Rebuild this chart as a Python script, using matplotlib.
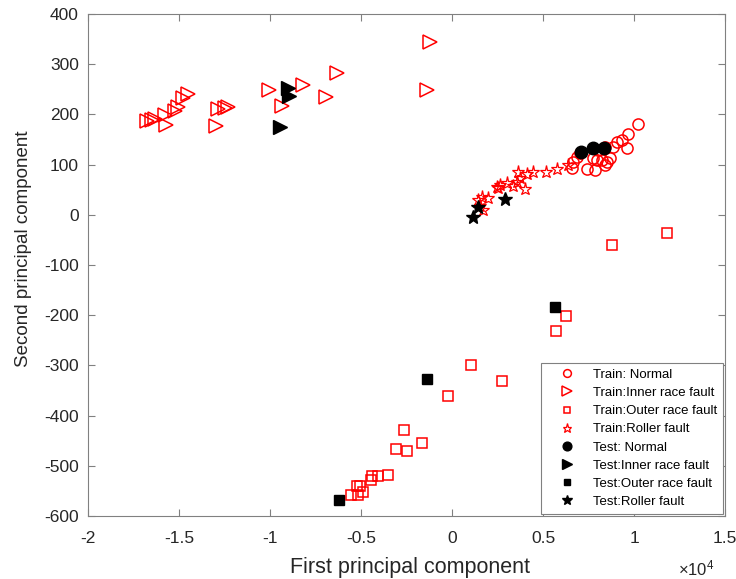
import matplotlib
matplotlib.use("Agg")
import matplotlib.pyplot as plt
from matplotlib.ticker import FuncFormatter, MultipleLocator

plt.rcParams["font.family"] = ["Liberation Sans", "DejaVu Sans"]
plt.rcParams["mathtext.fontset"] = "custom"
plt.rcParams["mathtext.rm"] = "Liberation Sans"

# ── Data (first PC in raw units, second PC) ─────────────────────
train_normal_x = [10240, 9650, 9320, 9050, 9600, 8860, 8410, 8680, 8500, 8220,
                  7950, 7860, 7400, 8410, 7760, 6580, 6670, 6850, 7030, 8040]
train_normal_y = [181, 161, 149, 146, 133, 136, 136, 113, 106, 110,
                  110, 90, 91, 100, 113, 93, 106, 116, 123, 129]

train_inner_x = [-16770, -16500, -16320, -15770, -15710, -15220, -15040, -14760,
                 -14490, -12970, -12840, -12470, -12290, -10040, -9360, -8170,
                 -6920, -6300, -1210, -1360]
train_inner_y = [186, 189, 191, 199, 179, 206, 215, 232, 241, 177, 211, 213,
                 215, 248, 217, 259, 234, 282, 345, 249]

train_outer_x = [11800, 8770, 6260, 5700, 1030, 2730, -240, -2640, -1670,
                 -3090, -2490, -3530, -4050, -4410, -4450, -5050, -5240,
                 -4870, -5150, -5570]
train_outer_y = [-36, -61, -201, -232, -300, -332, -360, -428, -454, -467,
                 -470, -518, -521, -520, -529, -541, -540, -553, -558, -558]

train_roller_x = [6390, 5750, 5160, 4470, 4100, 3640, 3740, 3550, 4010, 3370,
                  2640, 2550, 2450, 2000, 1630, 1450, 1540, 1720, 3000]
train_roller_y = [100, 91, 86, 86, 82, 86, 73, 66, 51, 58,
                  60, 53, 56, 33, 36, 30, 17, 10, 63]

test_normal_x = [7070, 7730, 8370]
test_normal_y = [126, 133, 133]

test_inner_x = [-8990, -8940, -9450]
test_inner_y = [252, 236, 175]

test_outer_x = [5660, -1360, -6210]
test_outer_y = [-183, -327, -568]

test_roller_x = [1170, 1450, 2910]
test_roller_y = [-5, 15, 31]

RED = "#ff0000"
TXT = "#262626"
AXC = "#808080"

fig = plt.figure(figsize=(7.36, 5.79), dpi=100)
ax = fig.add_axes([0.1196, 0.1088, 0.8655, 0.867])

ax.plot(train_normal_x, train_normal_y, "o", ms=8, mfc="none", mec=RED, mew=1.1,
        label="Train: Normal")
ax.plot(train_inner_x, train_inner_y, ">", ms=9.5, mfc="none", mec=RED, mew=1.1,
        label="Train:Inner race fault")
ax.plot(train_outer_x, train_outer_y, "s", ms=6.5, mfc="none", mec=RED, mew=1.1,
        label="Train:Outer race fault")
ax.plot(train_roller_x, train_roller_y, "*", ms=9.5, mfc="none", mec=RED, mew=0.9,
        label="Train:Roller fault")
ax.plot(test_normal_x, test_normal_y, "o", ms=9, color="black",
        label="Test: Normal")
ax.plot(test_inner_x, test_inner_y, ">", ms=9.5, color="black",
        label="Test:Inner race fault")
ax.plot(test_outer_x, test_outer_y, "s", ms=7, color="black",
        label="Test:Outer race fault")
ax.plot(test_roller_x, test_roller_y, "*", ms=10, color="black",
        label="Test:Roller fault")

ax.set_xlim(-20000, 15000)
ax.set_ylim(-600, 400)
ax.xaxis.set_major_locator(MultipleLocator(5000))
ax.yaxis.set_major_locator(MultipleLocator(100))
ax.xaxis.set_major_formatter(FuncFormatter(lambda v, p: "%g" % (v / 1e4)))
ax.yaxis.set_major_formatter(FuncFormatter(lambda v, p: "%g" % v))

ax.tick_params(direction="in", top=True, right=True, length=5, width=0.8,
               color=AXC, labelsize=12.5, labelcolor=TXT)
ax.tick_params(axis="x", pad=10.5)
ax.tick_params(axis="y", pad=6.5)
for spine in ax.spines.values():
    spine.set_color(AXC)
    spine.set_linewidth(0.8)

ax.set_xlabel("First principal component", fontsize=15.5, color=TXT)
ax.set_ylabel("Second principal component", fontsize=13.5, color=TXT)
ax.xaxis.set_label_coords(0.506, -0.082)
ax.yaxis.set_label_coords(-0.088, 0.532)
ax.text(0.984, -0.104, r"$\mathregular{\times10^{4}}$", transform=ax.transAxes,
        ha="right", va="center", fontsize=12, color=TXT)

leg = ax.legend(loc="lower right", fontsize=9.5, frameon=True, fancybox=False,
                framealpha=1, edgecolor=AXC, borderaxespad=0.15,
                handletextpad=0.45, labelspacing=0.45, markerscale=0.7,
                borderpad=0.45, handlelength=3.0)
leg.get_frame().set_linewidth(0.8)

fig.savefig("out.png", dpi=100)
